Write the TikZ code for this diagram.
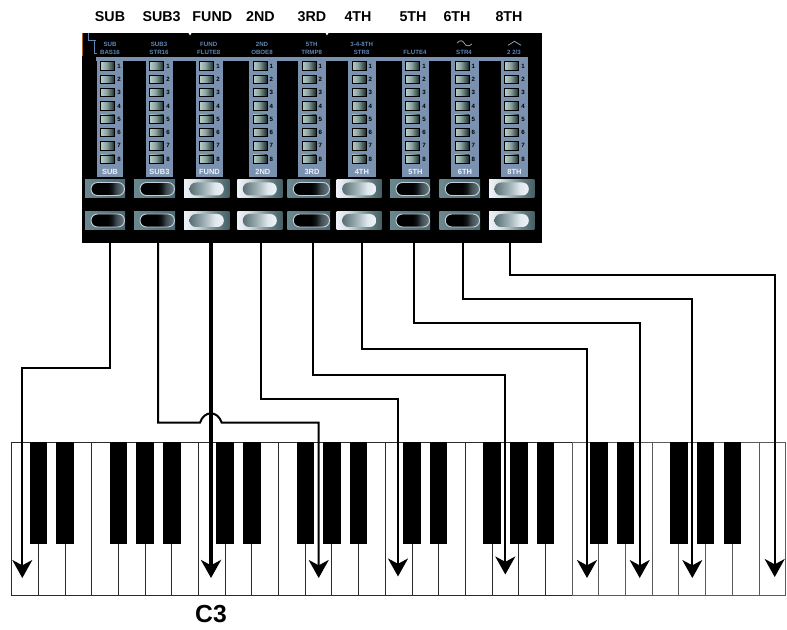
\documentclass[tikz,border=0pt]{standalone}
\usepackage{fontspec}
\setmainfont{Liberation Sans}
\usetikzlibrary{arrows.meta,calc}
\definecolor{stripcol}{HTML}{7B91B0}
\definecolor{smallblue}{HTML}{5F86B8}
\definecolor{symcol}{HTML}{8CA2B8}
\definecolor{keyedge}{HTML}{2A2A2A}
\definecolor{keyedgeb}{HTML}{5A5A5A}
\pgfdeclarehorizontalshading{ledshade}{100bp}{rgb(0bp)=(.72,.80,.78); rgb(25bp)=(.72,.80,.78); rgb(45bp)=(.55,.65,.63); rgb(62bp)=(.30,.38,.38); rgb(75bp)=(.10,.16,.16); rgb(100bp)=(.10,.16,.16)}
\pgfdeclarehorizontalshading{offrect}{100bp}{rgb(0bp)=(.42,.53,.56); rgb(25bp)=(.42,.53,.56); rgb(75bp)=(.30,.41,.44); rgb(100bp)=(.30,.41,.44)}
\pgfdeclarehorizontalshading{onrect}{100bp}{rgb(0bp)=(.93,.95,.97); rgb(25bp)=(.93,.95,.97); rgb(37bp)=(.85,.88,.90); rgb(50bp)=(.60,.68,.70); rgb(62bp)=(.40,.50,.52); rgb(75bp)=(.27,.37,.40); rgb(100bp)=(.27,.37,.40)}
\pgfdeclarehorizontalshading{offpill}{100bp}{rgb(0bp)=(0,0,0); rgb(50bp)=(0,0,0); rgb(56bp)=(.06,.08,.09); rgb(63bp)=(.25,.30,.32); rgb(75bp)=(.42,.50,.52); rgb(100bp)=(.42,.50,.52)}
\pgfdeclarehorizontalshading{onpill}{100bp}{rgb(0bp)=(.35,.43,.45); rgb(25bp)=(.35,.43,.45); rgb(37bp)=(.50,.58,.60); rgb(50bp)=(.68,.74,.76); rgb(62bp)=(.88,.91,.93); rgb(75bp)=(.93,.95,.97); rgb(100bp)=(.93,.95,.97)}
\tikzset{
  x=0.75pt,y=-0.75pt,
  box/.style n args={2}{inner sep=0pt,outer sep=0pt,minimum width=(#1)*0.75pt,minimum height=(#2)*0.75pt},
  toplabel/.style={font=\bfseries\fontsize{10.7}{12}\selectfont,inner sep=0pt,text=black},
  smalltext/.style={font=\bfseries\fontsize{4.6}{5}\selectfont,inner sep=0pt,text=smallblue},
  ledtext/.style={font=\bfseries\fontsize{4.6}{5}\selectfont,inner sep=0pt,text=black},
  striptext/.style={font=\bfseries\fontsize{5.6}{6}\selectfont,inner sep=0pt,text=white!88!stripcol},
  conn/.style={draw=black,line width=1.5pt,line join=miter,-{Stealth[length=13.5pt,width=15pt,inset=4pt]}},
  fundconn/.style={conn,line width=2.9pt},
  whitekey/.style={draw=keyedge,fill=white,line width=0.9pt},
  whitekeyb/.style={draw=keyedgeb,fill=white,line width=0.9pt},
  blackkey/.style={fill=black},
}
\newcommand{\btnoff}[3]{% x0 x1 name
  \node[box={#2-#1}{18},shading=offrect,anchor=north west] (#3) at (#1,\btny) {};
  \path[rounded corners=4.8pt,draw=white!55!stripcol,line width=0.7pt,shading=offpill]
    (#1+6,\btny+2.5) rectangle (#2-0.5,\btny+15.5);
}
\newcommand{\btnon}[3]{%
  \node[box={#2-#1}{18},shading=onrect,anchor=north west] (#3) at (#1,\btny) {};
  \path[rounded corners=4.8pt,shading=onpill] (#1+5.5,\btny+2.5) rectangle (#2-5.5,\btny+15.5);
}
\def\btny{0}
\begin{document}
\begin{tikzpicture}
\useasboundingbox (0,0) rectangle (787,630);
% top labels
\foreach \n/\x/\t in {sub/110/SUB,subt/161.6/SUB3,fund/212.3/FUND,sec/260.5/2ND,thi/312/3RD,fou/358/4TH,fif/413/5TH,six/457/6TH,eig/509/8TH}
  \node[toplabel] (top-\n) at (\x,16.7) {\t};
% panel
\node[box={459.5}{210},fill=black,anchor=north west] (panel) at (82,33) {};
\draw[draw={rgb,255:red,176;green,96;blue,32},line width=0.7pt] (82,33) -- (82,56);
\fill[white] (188.5,33) -- (191.5,33) -- (190,35.5) -- cycle;
\fill[white] (325.5,33) -- (328.5,33) -- (327,35.5) -- cycle;
\draw[smallblue,line width=0.6pt] (88,33) -- (88,40) -- (96,40) (94,40) -- (94,53.5) -- (97,53.5);
\foreach \x/\a/\b in {110/SUB/BAS16,159/SUB3/STR16,208.7/FUND/FLUTE8,262/2ND/OBOE8,311.7/5TH/TRMP8,361.7/3-4-8TH/STR8}{
  \node[smalltext] at (\x,44.5) {\a};
  \node[smalltext] at (\x,52) {\b};
}
\node[smalltext] (flute) at (415,52) {FLUTE4};
\node[smalltext] (strf) at (464,52) {STR4};
\node[smalltext] (ttt) at (514,52) {2 2/3};
\draw[symcol,line width=0.6pt] (457,43) .. controls (460.5,39) and (463,41) .. (464.5,43.5) .. controls (466,46.5) and (469,46.5) .. (472,44);
\draw[symcol,line width=0.6pt] (508,45.3) -- (514.5,41.3) -- (521,45.3);
% top bar
\node[box={432}{3.8},fill=stripcol,anchor=north west] (bar) at (96.3,57.4) {};
% strips
\foreach \x/\t/\w in {96.7/SUB/26.5,145.7/SUB3/27.5,195.7/FUND/27.5,249/2ND/27.7,298/3RD/28,348/4TH/27.7,401.7/5TH/27.5,451/6TH/28,500.7/8TH/27.5}{
  \node[box={\w}{119.5},fill=stripcol,anchor=north west] (strip-\t) at (\x,57.4) {};
  \foreach \i in {1,...,8}{
    \node[box={13.8}{8.4},shading=ledshade,draw=black,line width=0.5pt] (led-\t-\i) at ({\x+11},{66+13.3*(\i-1)}) {};
    \node[ledtext] at ({\x+22.3},{66+13.3*(\i-1)}) {\i};
  }
  \node[striptext] (lab-\t) at ({\x+\w/2},171.6) {\t};
}
% buttons
\foreach \yy/\r in {180/a,211.5/b}{
  \def\btny{\yy}
  \btnoff{85}{125}{bt-sub-\r}
  \btnoff{134}{175}{bt-subt-\r}
  \btnon{184}{229.3}{bt-fund-\r}
  \btnon{237.3}{282.3}{bt-sec-\r}
  \btnoff{287.3}{330}{bt-thi-\r}
  \btnon{336.7}{381.7}{bt-fou-\r}
  \btnoff{390}{430}{bt-fif-\r}
  \btnoff{439.3}{480}{bt-six-\r}
  \btnon{489}{534.3}{bt-eig-\r}
}
% keyboard: 29 white keys, edges placed on pixel centres
\foreach \k in {0,...,28}{
  \pgfmathsetmacro{\kx}{floor(11.7+26.69*\k)+0.5}
  \pgfmathsetmacro{\kxn}{floor(11.7+26.69*(\k+1))+0.5}
  \pgfmathsetmacro{\kw}{\kxn-\kx}
  \pgfmathtruncatemacro{\second}{\k>20?1:0}
  \ifnum\second=1
    \node[box={\kw}{153},whitekeyb,anchor=north west] (wk-\k) at (\kx,442.5) {};
  \else
    \node[box={\kw}{153},whitekey,anchor=north west] (wk-\k) at (\kx,442.5) {};
  \fi
}
\foreach \k in {1,2,4,5,6,8,9,11,12,13,15,16,18,19,20,22,23,25,26,27}{
  \pgfmathsetmacro{\kx}{11.7+26.69*\k}
  \node[box={17.5}{101.5},blackkey,anchor=north] (bk-\k) at (\kx,442.4) {};
}
% connector ends
\foreach \n/\a/\b in {sub/110.3/22.3,subt/158/318.7,fund/211/211,sec/261.3/398,thi/312.7/505.3,fou/361.7/587,fif/413.7/639.7,six/462.7/692.3,eig/509.7/774.7}{
  \coordinate (from-\n) at (\a,243);
  \coordinate (to-\n) at (\b,578);
}
\coordinate (to-sec) at (398,576.5);
\coordinate (to-thi) at (505.3,574.5);
\coordinate (to-eig) at (774.7,577);
\coordinate (jump-a) at (200,422.7);
\coordinate (jump-b) at (221.7,422.7);
% connectors
\draw[conn] (from-sub) -- ++(0,124.7) -| (to-sub);
\draw[conn] (from-subt) |- (jump-a) .. controls +(4,-12.5) and +(-4,-12.5) .. (jump-b) -| (to-subt);
\draw[fundconn] (from-fund) -- (to-fund);
\draw[conn] (from-sec) -- ++(0,156) -| (to-sec);
\draw[conn] (from-thi) -- ++(0,132) -| (to-thi);
\draw[conn] (from-fou) -- ++(0,106) -| (to-fou);
\draw[conn] (from-fif) -- ++(0,80) -| (to-fif);
\draw[conn] (from-six) -- ++(0,56.3) -| (to-six);
\draw[conn] (from-eig) -- ++(0,31.7) -| (to-eig);
\node[font=\bfseries\fontsize{18.5}{20}\selectfont,inner sep=0pt] (cthree) at (211,614.5) {C3};
\end{tikzpicture}
\end{document}
